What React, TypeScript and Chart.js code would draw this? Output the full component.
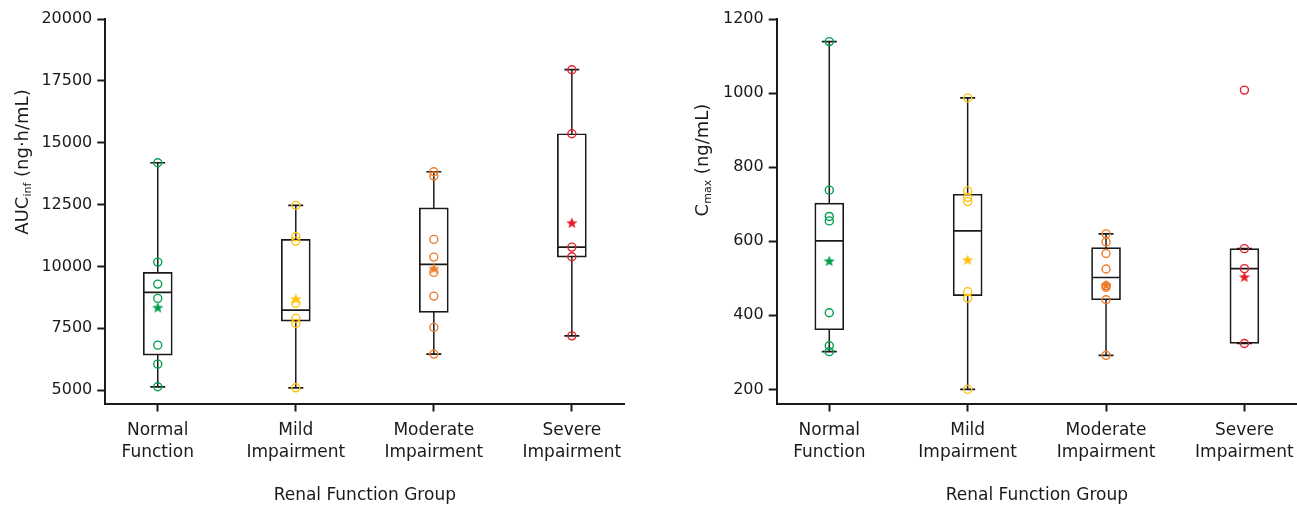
import React, { useEffect, useRef } from "react";
import { Chart, registerables } from "chart.js";
Chart.register(...registerables);

// ---------- shared ----------
const groupLabels = [
  ["Normal", "Function"],
  ["Mild", "Impairment"],
  ["Moderate", "Impairment"],
  ["Severe", "Impairment"],
];
const groupColors = ["#00A04F", "#FFC20E", "#EE7D2B", "#E41E26"];
const xAxisTitle = "Renal Function Group";

// ---------- AUCinf (ng·h/mL) ----------
const aucNormal = [14190, 10175, 9286, 8707, 6819, 6051, 5135];
const aucMild = [12467, 11198, 11024, 8505, 7899, 7697, 5094];
const aucModerate = [13826, 13652, 11093, 10377, 9759, 8801, 7535, 6456];
const aucSevere = [17950, 15363, 10782, 10390, 7195];
const aucQ1 = [6415, 7790, 8141, 10377];
const aucMedian = [8950, 8235, 10082, 10782];
const aucQ3 = [9759, 11093, 12371, 15363];
const aucWhiskerLow = [5135, 5094, 6456, 7195];
const aucWhiskerHigh = [14190, 12467, 13826, 17950];
const aucMean = [8344, 8693, 9920, 11764];
const aucTicks = [5000, 7500, 10000, 12500, 15000, 17500, 20000];

// ---------- Cmax (ng/mL) ----------
const cmaxNormal = [1139, 738, 667, 655, 407, 318, 302];
const cmaxMild = [987, 736, 718, 707, 464, 446, 200];
const cmaxModerate = [620, 598, 567, 525, 480, 476, 442, 292];
const cmaxSevere = [1008, 580, 526, 324];
const cmaxQ1 = [361, 453, 442, 324];
const cmaxMedian = [601, 628, 502, 526];
const cmaxQ3 = [703, 727, 583, 580];
const cmaxWhiskerLow = [302, 200, 292, 324];
const cmaxWhiskerHigh = [1139, 987, 620, 580];
const cmaxMean = [547, 550, 482, 504];
const cmaxTicks = [200, 400, 600, 800, 1000, 1200];

const FONT = '"DejaVu Sans", "Liberation Sans", Arial, sans-serif';
const INK = "#1a1a1a";

function makeStar(color: string) {
  const c = document.createElement("canvas");
  const s = 14;
  c.width = s;
  c.height = s;
  const ctx = c.getContext("2d")!;
  const cx = s / 2, cy = s / 2 + 0.5;
  const outer = 6, inner = 2.5;
  ctx.beginPath();
  for (let i = 0; i < 10; i++) {
    const r = i % 2 === 0 ? outer : inner;
    const a = -Math.PI / 2 + (i * Math.PI) / 5;
    const x = cx + r * Math.cos(a);
    const y = cy + r * Math.sin(a);
    if (i === 0) ctx.moveTo(x, y);
    else ctx.lineTo(x, y);
  }
  ctx.closePath();
  ctx.fillStyle = color;
  ctx.fill();
  return c;
}

function yTitlePlugin(main: string, sub: string, rest: string, cx: number, cy: number) {
  return {
    id: "yTitleCustom",
    afterDraw(chart: any) {
      const ctx = chart.ctx;
      const mainFont = `18px ${FONT}`;
      const subFont = `11px ${FONT}`;
      ctx.save();
      ctx.font = mainFont;
      const w1 = ctx.measureText(main).width;
      const w3 = ctx.measureText(rest).width;
      ctx.font = subFont;
      const w2 = ctx.measureText(sub).width;
      const total = w1 + w2 + w3;
      ctx.translate(cx, cy);
      ctx.rotate(-Math.PI / 2);
      ctx.fillStyle = INK;
      ctx.textAlign = "left";
      ctx.textBaseline = "alphabetic";
      const base = 6.5;
      let x = -total / 2;
      ctx.font = mainFont;
      ctx.fillText(main, x, base);
      x += w1;
      ctx.font = subFont;
      ctx.fillText(sub, x, base + 3);
      x += w2;
      ctx.font = mainFont;
      ctx.fillText(rest, x, base);
      ctx.restore();
    },
  };
}

type PanelData = {
  groups: number[][];
  q1: number[];
  median: number[];
  q3: number[];
  wLow: number[];
  wHigh: number[];
  mean: number[];
  ticks: number[];
  yMin: number;
  yMax: number;
  yAxisWidth: number;
  padRight: number;
  title: [string, string, string];
  titleX: number;
  titleY: number;
};

function buildConfig(d: PanelData): any {
  const stars = groupColors.map((c) => makeStar(c));
  const datasets: any[] = [];
  // whiskers
  d.wLow.forEach((lo, i) => {
    datasets.push({
      type: "line",
      data: [
        { x: i, y: lo },
        { x: i, y: d.wHigh[i] },
      ],
      borderColor: INK,
      borderWidth: 1.5,
      pointRadius: 0,
      fill: false,
      order: 6,
    });
  });
  // boxes
  datasets.push({
    type: "bar",
    data: d.q1.map((q, i) => ({ x: i, y: [q, d.q3[i]] })),
    backgroundColor: "#ffffff",
    borderColor: INK,
    borderWidth: 1.7,
    borderSkipped: false,
    barThickness: 29,
    order: 5,
  });
  // caps
  datasets.push({
    type: "scatter",
    data: [
      ...d.wLow.map((v, i) => ({ x: i, y: v })),
      ...d.wHigh.map((v, i) => ({ x: i, y: v })),
    ],
    pointStyle: "line",
    pointRadius: 7.5,
    borderColor: INK,
    borderWidth: 1.7,
    order: 4,
  });
  // medians
  datasets.push({
    type: "scatter",
    data: d.median.map((v, i) => ({ x: i, y: v })),
    pointStyle: "line",
    pointRadius: 14,
    borderColor: INK,
    borderWidth: 1.6,
    order: 4,
  });
  // individual points
  d.groups.forEach((vals, i) => {
    datasets.push({
      type: "scatter",
      data: vals.map((v) => ({ x: i, y: v })),
      pointStyle: "circle",
      pointRadius: 4,
      borderColor: groupColors[i],
      backgroundColor: "rgba(0,0,0,0)",
      borderWidth: 1.4,
      order: 2,
    });
  });
  // means
  d.mean.forEach((v, i) => {
    datasets.push({
      type: "scatter",
      data: [{ x: i, y: v }],
      pointStyle: stars[i],
      pointRadius: 6,
      order: 1,
    });
  });

  return {
    type: "scatter",
    data: { datasets },
    options: {
      responsive: false,
      animation: false,
      events: [],
      layout: { padding: { top: 19, right: d.padRight, bottom: 0, left: 0 } },
      plugins: { legend: { display: false }, tooltip: { enabled: false } },
      scales: {
        x: {
          type: "linear",
          min: -0.38,
          max: 3.38,
          offset: false,
          afterBuildTicks: (axis: any) => {
            axis.ticks = [0, 1, 2, 3].map((v) => ({ value: v }));
          },
          afterFit: (axis: any) => {
            axis.height = 101.5;
          },
          ticks: {
            autoSkip: false,
            maxRotation: 0,
            minRotation: 0,
            padding: 8,
            color: INK,
            font: { family: FONT, size: 17, lineHeight: 1.3 },
            callback: (v: number) => groupLabels[Math.round(v)],
          },
          grid: {
            offset: false,
            drawOnChartArea: false,
            drawTicks: true,
            tickLength: 8,
            tickColor: INK,
            tickWidth: 2,
          },
          border: { display: true, color: INK, width: 2 },
          title: {
            display: true,
            text: xAxisTitle,
            color: INK,
            font: { family: FONT, size: 17, lineHeight: 1.1 },
            padding: { top: 0, bottom: 0 },
          },
        },
        y: {
          type: "linear",
          min: d.yMin,
          max: d.yMax,
          afterBuildTicks: (axis: any) => {
            axis.ticks = d.ticks.map((v) => ({ value: v }));
          },
          afterFit: (axis: any) => {
            axis.width = d.yAxisWidth;
          },
          ticks: {
            padding: 5,
            color: INK,
            font: { family: FONT, size: 16 },
            callback: (v: number) => String(v),
          },
          grid: {
            offset: false,
            drawOnChartArea: false,
            drawTicks: true,
            tickLength: 8,
            tickColor: INK,
            tickWidth: 2,
          },
          border: { display: true, color: INK, width: 2 },
        },
      },
    },
    plugins: [yTitlePlugin(d.title[0], d.title[1], d.title[2], d.titleX, d.titleY)],
  };
}

function Panel({ data, width, left }: { data: PanelData; width: number; left: number }) {
  const ref = useRef<HTMLCanvasElement | null>(null);
  useEffect(() => {
    if (!ref.current) return;
    const chart = new Chart(ref.current, buildConfig(data));
    return () => chart.destroy();
  }, []);
  return (
    <canvas
      ref={ref}
      width={width}
      height={505}
      style={{ position: "absolute", left, top: 0, width, height: 505 }}
    />
  );
}

const aucPanel: PanelData = {
  groups: [aucNormal, aucMild, aucModerate, aucSevere],
  q1: aucQ1,
  median: aucMedian,
  q3: aucQ3,
  wLow: aucWhiskerLow,
  wHigh: aucWhiskerHigh,
  mean: aucMean,
  ticks: aucTicks,
  yMin: 4460,
  yMax: 20000,
  yAxisWidth: 105.3,
  padRight: 25.7,
  title: ["AUC", "inf", " (ng·h/mL)"],
  titleX: 21,
  titleY: 162,
};

const cmaxPanel: PanelData = {
  groups: [cmaxNormal, cmaxMild, cmaxModerate, cmaxSevere],
  q1: cmaxQ1,
  median: cmaxMedian,
  q3: cmaxQ3,
  wLow: cmaxWhiskerLow,
  wHigh: cmaxWhiskerHigh,
  mean: cmaxMean,
  ticks: cmaxTicks,
  yMin: 162,
  yMax: 1200,
  yAxisWidth: 126.7,
  padRight: 53,
  title: ["C", "max", " (ng/mL)"],
  titleX: 51,
  titleY: 160,
};

export default function App() {
  return (
    <div
      style={{
        position: "fixed",
        left: 0,
        top: 0,
        width: 1297,
        height: 505,
        overflow: "hidden",
        background: "#fff",
      }}
    >
      <Panel data={aucPanel} width={650} left={0} />
      <Panel data={cmaxPanel} width={700} left={650} />
    </div>
  );
}
